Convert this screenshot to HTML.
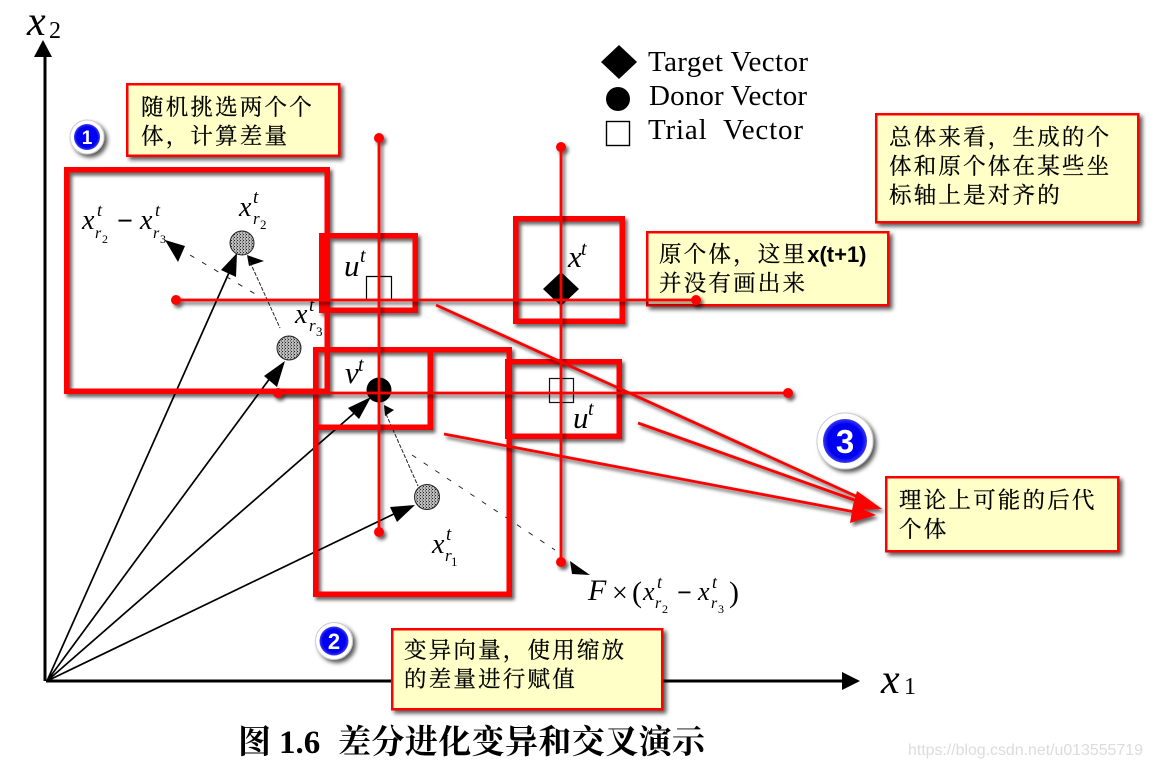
<!DOCTYPE html>
<html><head><meta charset="utf-8"><style>
html,body{margin:0;padding:0;background:#fff;width:1151px;height:768px;overflow:hidden}
svg{display:block}
.m{font-family:"Liberation Serif",serif;font-style:italic;fill:#000}
.l{font-family:"Liberation Serif",serif;fill:#000;font-size:29px}
.c{font-family:"Liberation Sans","Noto Serif CJK SC",serif;font-size:22.500px;fill:#000;stroke:#000;stroke-width:.25px;letter-spacing:2.2px}
.bd{font-family:"Liberation Sans",sans-serif;font-weight:bold;fill:#fff;text-anchor:middle}
</style></head><body>
<svg width="1151" height="768" viewBox="0 0 1151 768" xmlns="http://www.w3.org/2000/svg">
<defs>
<filter id="s" x="-10%" y="-10%" width="125%" height="125%"><feDropShadow dx="3" dy="3" stdDeviation="2" flood-color="#000" flood-opacity=".65"/></filter>
<filter id="sl" filterUnits="userSpaceOnUse" x="0" y="0" width="1151" height="768"><feDropShadow dx="2.500" dy="3" stdDeviation="1.800" flood-color="#000" flood-opacity=".62"/></filter>
<pattern id="sp" width="3" height="3" patternUnits="userSpaceOnUse"><rect width="3" height="3" fill="#bbb"/><rect width="1" height="1" fill="#222"/><rect x="2" y="1.500" width="1" height="1" fill="#444"/></pattern>
<radialGradient id="bg"><stop offset="0" stop-color="#0000ff"/><stop offset=".78" stop-color="#0000f0"/><stop offset="1" stop-color="#3a3af0"/></radialGradient>
</defs>

<!-- axes -->
<path d="M45 55V681M46 681H846" stroke="#000" stroke-width="3" fill="none"/>
<path d="M43 40L52 57H34Z M860 681L842 672V690Z" fill="#000"/>

<!-- vectors -->
<g stroke="#000" stroke-width="1.700" fill="none">
<path d="M47 681L232 266M47 681L276 370M47 681L360 408M47 681L398 512"/>
</g>
<g fill="#000">
<path d="M237 253L236 277 221 270Z"/>
<path d="M285 361L277 387 264 376Z"/>
<path d="M371 397L359 419 348 408Z"/>
<path d="M415 505L397 522 390 507Z"/>
<path d="M247 255L264 261 249 266Z"/>
<path d="M384 405L394 410 385 416Z"/>
<path d="M165 240L185 246 178 262Z"/>
<path d="M590 575L570 561 572 574Z"/>
</g>
<g stroke="#222" stroke-width="1" fill="none">
<path d="M250 262L280 328" stroke-dasharray="4 1.500"/>
<path d="M386 414L418 486" stroke-dasharray="4 1.500"/>
<path d="M190 255L262 298" stroke-dasharray="5 9"/>
<path d="M412 455L555 550" stroke-dasharray="5 9"/>
</g>
<circle cx="242" cy="243" r="12" fill="url(#sp)" stroke="#222"/>
<circle cx="289" cy="348" r="12" fill="url(#sp)" stroke="#222"/>
<circle cx="427" cy="497" r="12.500" fill="url(#sp)" stroke="#222"/>
<circle cx="379" cy="390" r="12.500" fill="#000"/>
<path d="M561 272L579 289 561 306 543 289Z" fill="#000"/>
<path d="M366.500 300V276.500H391.500V300" fill="none" stroke="#000" stroke-width="1.200"/>
<rect x="549.500" y="378.500" width="24" height="24" fill="none" stroke="#111" stroke-width="1.200"/>

<!-- legend -->
<path d="M619 45L637 62 619 79 601 62Z" fill="#000"/>
<circle cx="618" cy="99" r="12" fill="#000"/>
<rect x="606.500" y="121.500" width="23" height="24" fill="none" stroke="#000" stroke-width="1.400"/>
<text class="l" x="648" y="71" textLength="160">Target Vector</text>
<text class="l" x="649" y="105" textLength="158">Donor Vector</text>
<text class="l" x="648" y="139" textLength="155" xml:space="preserve">Trial  Vector</text>

<!-- math -->
<text class="m" x="27" y="35" font-size="42">x</text><text font-family="Liberation Serif" x="49" y="38" font-size="24">2</text>
<text class="m" x="881" y="693" font-size="42">x</text><text font-family="Liberation Serif" x="904" y="694" font-size="24">1</text>

<g class="m" font-size="28">
<text x="82" y="229">x</text><text x="97" y="216" font-size="18">t</text><text x="95" y="238" font-size="16">r</text><text x="102" y="243" font-size="12" font-style="normal">2</text>
<text x="117" y="230" font-style="normal" font-weight="bold">−</text>
<text x="140" y="229">x</text><text x="155" y="216" font-size="18">t</text><text x="153" y="238" font-size="16">r</text><text x="160" y="243" font-size="12" font-style="normal">3</text>

<text x="239" y="216">x</text><text x="253" y="203" font-size="19">t</text><text x="253" y="224" font-size="17">r</text><text x="260" y="229" font-size="13" font-style="normal">2</text>
<text x="295" y="323">x</text><text x="309" y="311" font-size="19">t</text><text x="309" y="331" font-size="17">r</text><text x="316" y="336" font-size="13" font-style="normal">3</text>
<text x="432" y="553">x</text><text x="446" y="540" font-size="19">t</text><text x="445" y="561" font-size="17">r</text><text x="451" y="566" font-size="13" font-style="normal">1</text>

<text x="344" y="276" font-size="31">u</text><text x="360" y="262" font-size="20">t</text>
<text x="345" y="383" font-size="31">v</text><text x="358" y="371" font-size="20">t</text>
<text x="568" y="267" font-size="31">x</text><text x="581" y="255" font-size="20">t</text>
<text x="573" y="428" font-size="31">u</text><text x="588" y="415" font-size="20">t</text>

<text x="588" y="600" font-size="30">F</text>
<text x="612" y="602" font-size="28" font-style="normal">×</text>
<text x="632" y="602" font-size="30" font-style="normal">(</text>
<text x="643" y="600" font-size="26">x</text><text x="657" y="588" font-size="18">t</text><text x="655" y="608" font-size="16">r</text><text x="662" y="613" font-size="12" font-style="normal">2</text>
<text x="677" y="601" font-style="normal" font-size="26" font-weight="bold">−</text>
<text x="698" y="600" font-size="26">x</text><text x="712" y="588" font-size="18">t</text><text x="711" y="608" font-size="16">r</text><text x="718" y="613" font-size="12" font-style="normal">3</text>
<text x="729" y="602" font-size="30" font-style="normal">)</text>
</g>

<!-- title -->
<text x="238" y="753" font-family="'Liberation Serif','Noto Serif CJK SC',serif" font-weight="bold" font-size="33" fill="#000">图</text>
<text x="279" y="753" font-family="'Liberation Serif',serif" font-weight="bold" font-size="33" fill="#000">1.6</text>
<text x="338" y="753" font-family="'Noto Serif CJK SC',serif" font-weight="bold" font-size="33" fill="#000" textLength="367">差分进化变异和交叉演示</text>

<!-- watermark -->
<text x="908" y="755" font-family="'Liberation Sans',sans-serif" font-size="16" fill="#dcdcdc" textLength="235">https://blog.csdn.net/u013555719</text>

<!-- red rectangles -->
<g fill="none" stroke="#f00" stroke-width="5.500" filter="url(#sl)">
<rect x="66.750" y="169.750" width="260.500" height="221.500"/>
<rect x="321.750" y="235.750" width="93.500" height="74.500"/>
<rect x="515.750" y="218.750" width="106.500" height="102.500"/>
<rect x="315.750" y="349.750" width="193.500" height="244.500"/>
<rect x="315.750" y="349.750" width="114.500" height="77.500"/>
<rect x="507.750" y="361.750" width="111.500" height="74.500"/>
</g>

<!-- callouts -->
<g fill="#ffffc8" stroke="#f00" stroke-width="2.500" filter="url(#s)">
<rect x="127.250" y="84.250" width="212" height="71.500"/>
<rect x="876.250" y="114.250" width="262" height="108"/>
<rect x="647.250" y="232.250" width="241" height="73"/>
<rect x="392.250" y="629.250" width="270" height="80"/>
<rect x="886.250" y="477.250" width="232" height="74"/>
</g>
<g class="c">
<text x="141" y="115">随机挑选两个个</text>
<text x="141" y="144">体，计算差量</text>
<text x="889" y="145">总体来看，生成的个</text>
<text x="889" y="174">体和原个体在某些坐</text>
<text x="889" y="203">标轴上是对齐的</text>
<text x="659" y="262">原个体，这里<tspan font-weight="bold" font-family="Liberation Sans" letter-spacing="0" font-size="22" stroke="none">x(t+1)</tspan></text>
<text x="659" y="291">并没有画出来</text>
<text x="404" y="658">变异向量，使用缩放</text>
<text x="404" y="687">的差量进行赋值</text>
<text x="899" y="508">理论上可能的后代</text>
<text x="899" y="537">个体</text>
</g>

<!-- red lines -->
<g filter="url(#sl)">
<g stroke="#f00" stroke-width="2.800" fill="none">
<path d="M379 138V532M561 147V562M176 300H696M278 393H788"/>
<path d="M436 305L860 498M638 423L860 502M444 434L855 512"/>
</g>
<g fill="#f00">
<circle cx="379" cy="138" r="5"/><circle cx="379" cy="532" r="5"/>
<circle cx="561" cy="147" r="5"/><circle cx="561" cy="562" r="5"/>
<circle cx="176" cy="300" r="5"/><circle cx="696" cy="300" r="5"/>
<circle cx="278" cy="393" r="5"/><circle cx="788" cy="393" r="5"/>
<path d="M882 509L853 505 857 491Z"/>
<path d="M882 509L852 510 857 497Z"/>
<path d="M876 515L850 523 853 505Z"/>
</g>
</g>

<!-- badges -->
<g filter="url(#s)">
<circle cx="87" cy="137" r="17" fill="#fff" stroke="#ccc"/><circle cx="87" cy="137" r="13" fill="url(#bg)"/>
<circle cx="334" cy="641" r="18.500" fill="#fff" stroke="#ccc"/><circle cx="334" cy="641" r="14.500" fill="url(#bg)"/>
<circle cx="845" cy="441" r="28" fill="#fff" stroke="#ccc"/><circle cx="845" cy="441" r="22" fill="url(#bg)"/>
</g>
<text class="bd" x="87" y="144" font-size="19">1</text>
<text class="bd" x="334" y="649" font-size="22">2</text>
<text class="bd" x="845" y="453" font-size="33">3</text>
</svg>
</body></html>
